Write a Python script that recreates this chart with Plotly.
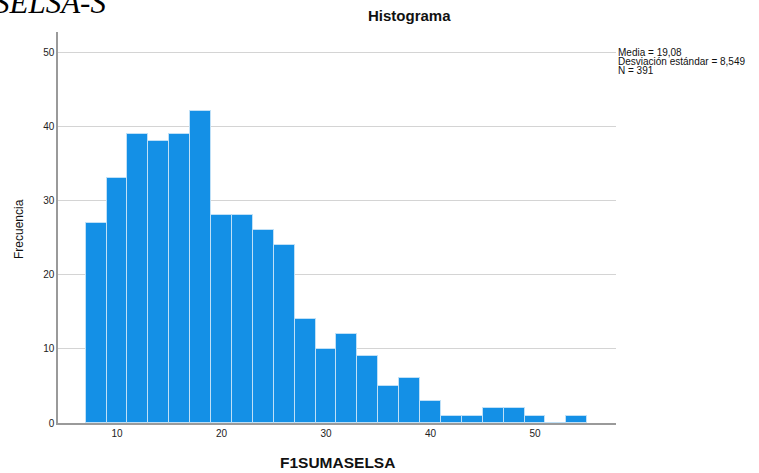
import plotly.graph_objects as go

bin_starts = [7, 9, 11, 13, 15, 17, 19, 21, 23, 25, 27, 29, 31, 33, 35, 37, 39, 41, 43, 45, 47, 49, 51, 53]
counts = [27, 33, 39, 38, 39, 42, 28, 28, 26, 24, 14, 10, 12, 9, 5, 6, 3, 1, 1, 2, 2, 1, 0, 1]
bin_width = 2
x_ticks = [10, 20, 30, 40, 50]
y_ticks = [0, 10, 20, 30, 40, 50]
stats_lines = ["Media = 19,08", "Desviación estándar = 8,549", "N = 391"]

centers = [s + bin_width / 2 for s in bin_starts]

fig = go.Figure()
fig.add_trace(go.Bar(
    x=centers, y=counts, width=bin_width,
    marker=dict(color="#1490e6", line=dict(color="#bfe0f7", width=1)),
    hoverinfo="x+y",
))

W, H = 759, 473
L, R, T, B = 58, 143, 32, 50
PW, PH = W - L - R, H - T - B


def px_x(px):
    return (px - L) / PW


def px_y(py):
    return 1 - (py - T) / PH


fig.update_layout(
    width=W, height=H,
    margin=dict(l=L, r=R, t=T, b=B),
    paper_bgcolor="white", plot_bgcolor="white",
    showlegend=False,
    bargap=0,
    font=dict(family="Liberation Sans, Arial, sans-serif", color="#222222"),
    xaxis=dict(
        range=[4.35, 57.75], tickvals=x_ticks, showgrid=False, zeroline=False,
        showline=True, linecolor="#9a9a9a", linewidth=1.5, ticks="",
        tickfont=dict(size=10, color="#222"), automargin=False,
    ),
    yaxis=dict(
        range=[0, 52.7], tickvals=y_ticks, showgrid=True, gridcolor="#d4d4d4", gridwidth=1,
        zeroline=False, showline=True, linecolor="#9a9a9a", linewidth=1.5, ticks="",
        tickfont=dict(size=10, color="#222"), automargin=False,
    ),
)

# axis titles
fig.add_annotation(
    text="<b>F1SUMASELSA</b>", xref="paper", yref="paper",
    x=px_x(337), y=px_y(462), xanchor="center", yanchor="middle", showarrow=False,
    font=dict(size=15.5, color="#111"),
)
fig.add_annotation(
    text="Frecuencia", xref="paper", yref="paper", textangle=-90,
    x=px_x(19), y=px_y(229), xanchor="center", yanchor="middle", showarrow=False,
    font=dict(size=12, color="#111"),
)

fig.add_annotation(
    text="<b>Histograma</b>", xref="paper", yref="paper",
    x=px_x(409), y=px_y(16),
    xanchor="center", yanchor="middle", showarrow=False,
    font=dict(size=15, color="#111"),
)

for i, line in enumerate(stats_lines):
    fig.add_annotation(
        text=line, xref="paper", yref="paper",
        x=px_x(616), y=px_y(52.5 + 9 * i),
        xanchor="left", yanchor="middle", align="left", showarrow=False,
        font=dict(size=10, color="#111"),
    )

fig.add_annotation(
    text="<i>SELSA-S</i>", xref="paper", yref="paper",
    x=px_x(-8), y=px_y(22),
    xanchor="left", yanchor="bottom", showarrow=False,
    font=dict(size=31, color="#000", family="Liberation Serif, Times New Roman, serif"),
)

fig.write_html(
    "out.html",
    config={"displayModeBar": False},
    post_script="document.body.style.margin='0';document.body.style.padding='0';",
)
